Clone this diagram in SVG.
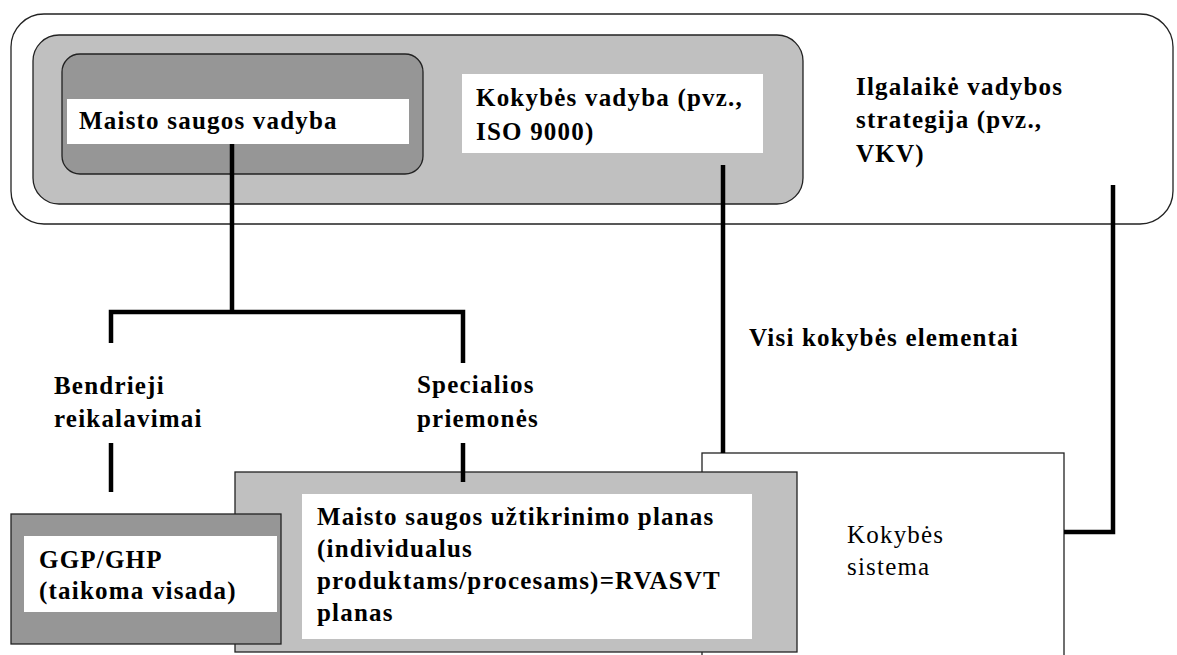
<svg xmlns="http://www.w3.org/2000/svg" width="1177" height="655" viewBox="0 0 1177 655">
<style>
.t{font-family:"Liberation Serif","Times New Roman",serif;font-size:25px;font-weight:bold;letter-spacing:1.2px;fill:#000}
.r{font-weight:normal}
.thin{stroke:#222;stroke-width:1.3}
.con{fill:none;stroke:#000;stroke-width:4.5;stroke-linecap:butt;stroke-linejoin:miter}
.lt{fill:#c0c0c0}
.dk{fill:#969696}
.wh{fill:#fff}
</style>
<rect width="1177" height="655" fill="#fff"/>
<g id="strategija">
<rect x="11" y="14" width="1162" height="210" rx="33" ry="33" class="wh thin"/>
<text class="t" x="856" y="95">Ilgalaikė vadybos</text>
<text class="t" x="856" y="128">strategija (pvz.,</text>
<text class="t" x="856" y="162">VKV)</text>
</g>
<g id="kokybes-vadyba">
<rect x="33" y="35" width="770" height="169" rx="26" ry="26" class="lt thin"/>
<rect x="462" y="74" width="301" height="79" class="wh"/>
<text class="t" x="476" y="106">Kokybės vadyba (pvz.,</text>
<text class="t" x="476" y="140">ISO 9000)</text>
</g>
<g id="maisto-saugos-vadyba">
<rect x="62" y="54" width="361" height="120" rx="18" ry="18" class="dk thin"/>
<rect x="67" y="99" width="342" height="45" class="wh"/>
<text class="t" x="79" y="129">Maisto saugos vadyba</text>
</g>
<g id="kokybes-sistema">
<rect x="702" y="453" width="362" height="215" class="wh thin"/>
<text class="t r" x="847" y="543">Kokybės</text>
<text class="t r" x="847" y="575">sistema</text>
</g>
<g id="maisto-saugos-planas">
<rect x="235" y="472" width="562" height="180" class="lt thin"/>
<rect x="302" y="494" width="450" height="145" class="wh"/>
<text class="t" x="317" y="525">Maisto saugos užtikrinimo planas</text>
<text class="t" x="317" y="557">(individualus</text>
<text class="t" x="317" y="589">produktams/procesams)=RVASVT</text>
<text class="t" x="317" y="621">planas</text>
</g>
<g id="ggp">
<rect x="11" y="514" width="270" height="130" class="dk thin"/>
<rect x="24" y="536" width="253" height="76" class="wh"/>
<text class="t" x="39" y="568">GGP/GHP</text>
<text class="t" x="39" y="599">(taikoma visada)</text>
</g>
<g id="labels">
<text class="t" x="54" y="394">Bendrieji</text>
<text class="t" x="54" y="427">reikalavimai</text>
<text class="t" x="417" y="393">Specialios</text>
<text class="t" x="417" y="427">priemonės</text>
<text class="t" x="749" y="346">Visi kokybės elementai</text>
</g>
<g id="connectors">
<path class="con" d="M232 144 V312"/>
<path class="con" d="M111 343 V312 H463 V363"/>
<path class="con" d="M111 443 V492"/>
<path class="con" d="M463 443 V482"/>
<path class="con" d="M723 165 V453"/>
<path class="con" d="M1113 185 V532 H1064"/>
</g>
</svg>
